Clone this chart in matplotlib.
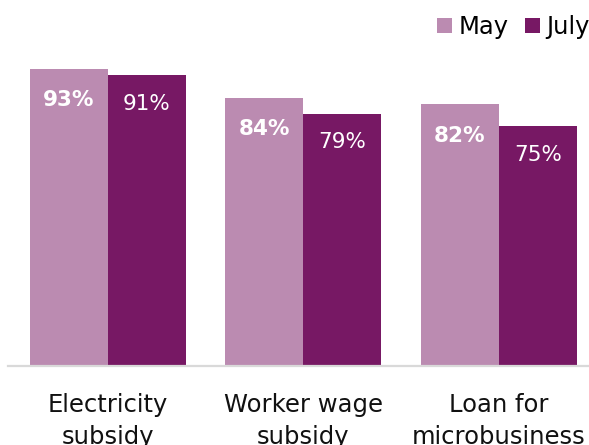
import matplotlib
matplotlib.use("Agg")
import matplotlib.pyplot as plt
import numpy as np

categories = ["Electricity\nsubsidy", "Worker wage\nsubsidy", "Loan for\nmicrobusiness"]
may_values = [93, 84, 82]
july_values = [91, 79, 75]
series_names = ["May", "July"]

may_color = "#BB8BB1"
july_color = "#771864"

W, H = 589, 445
fig = plt.figure(figsize=(W / 100, H / 100), dpi=100)
plt.rcParams["font.family"] = ["DejaVu Sans"]

# axes box in pixel terms: baseline at y=366, left edge at x=8, runs past the right edge
left_px, base_px, top_px = 8, 366, 46.5
x0, x1 = -0.51, 2.51
spacing = 195.5
ax = fig.add_axes([left_px / W, (H - base_px) / H,
                   (x1 - x0) * spacing / W, (base_px - top_px) / H])

x = np.arange(len(categories))
bw = 0.4
b1 = ax.bar(x - bw / 2, may_values, bw, color=may_color, label=series_names[0])
b2 = ax.bar(x + bw / 2, july_values, bw, color=july_color, label=series_names[1])

ax.set_xlim(x0, x1)
ax.set_ylim(0, 100)
ax.set_yticks([])
ax.set_xticks(x)
ax.set_xticklabels(categories, fontsize=17.5, color="#111111", linespacing=1.4)
ax.tick_params(axis="x", length=0, pad=19.5)
for s in ["top", "right", "left"]:
    ax.spines[s].set_visible(False)
ax.spines["bottom"].set_color("#d9d9d9")
ax.spines["bottom"].set_linewidth(1.6)

for rect, v in zip(b1, may_values):
    ax.annotate(f"{v}%", (rect.get_x() + rect.get_width() / 2, v),
                xytext=(0, -27), textcoords="offset points",
                ha="center", va="baseline", color="white",
                fontsize=15.5, fontweight="bold")
for rect, v in zip(b2, july_values):
    ax.annotate(f"{v}%", (rect.get_x() + rect.get_width() / 2, v),
                xytext=(0, -25), textcoords="offset points",
                ha="center", va="baseline", color="white",
                fontsize=15.5)

ax.legend(loc="upper left", bbox_to_anchor=(437 / W, 1 - 15 / H),
          bbox_transform=fig.transFigure, ncol=2, frameon=False,
          fontsize=17.5, handlelength=0.62, handleheight=0.62,
          handletextpad=0.25, columnspacing=0.68, borderpad=0, borderaxespad=0)

fig.savefig("out.png", dpi=100)
